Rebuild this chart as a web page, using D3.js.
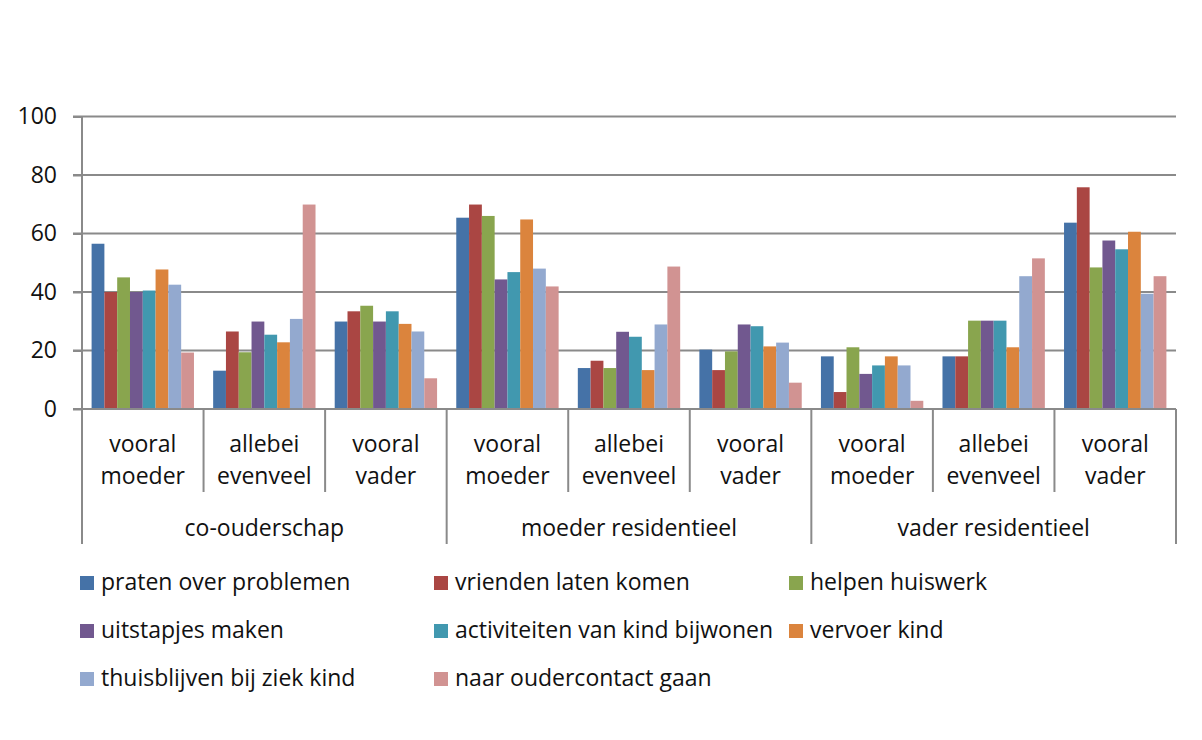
<!DOCTYPE html>
<html>
<head>
<meta charset="utf-8">
<script src="https://cdn.jsdelivr.net/npm/d3@7"></script>
<style>
  html, body { margin: 0; padding: 0; background: #fff; }
  svg { display: block; }
  text { font-family: "Open Sans", sans-serif; fill: #111; }
</style>
</head>
<body>
<svg id="chart" width="1202" height="740"></svg>
<script>
const groups = ["co-ouderschap", "moeder residentieel", "vader residentieel"];
const subcats = [["vooral", "moeder"], ["allebei", "evenveel"], ["vooral", "vader"]];
const seriesNames = [
  "praten over problemen", "vrienden laten komen", "helpen huiswerk",
  "uitstapjes maken", "activiteiten van kind bijwonen", "vervoer kind",
  "thuisblijven bij ziek kind", "naar oudercontact gaan"
];
const seriesColors = ["#4572A7", "#AA4643", "#89A54E", "#71588F", "#4198AF", "#DB843D", "#93A9CF", "#D19392"];
const praten       = [56.5, 13.1, 29.9, 65.4, 14.0, 20.3, 18.0, 18.0, 63.7];
const vrienden     = [40.0, 26.5, 33.4, 69.9, 16.5, 13.3,  5.8, 18.0, 75.8];
const helpen       = [45.0, 19.4, 35.3, 66.0, 14.0, 19.7, 21.1, 30.2, 48.4];
const uitstapjes   = [40.0, 29.9, 29.9, 44.3, 26.4, 28.9, 12.0, 30.2, 57.6];
const activiteiten = [40.5, 25.4, 33.4, 46.8, 24.7, 28.3, 14.9, 30.2, 54.6];
const vervoer      = [47.7, 22.8, 29.1, 64.8, 13.3, 21.4, 18.0, 21.1, 60.6];
const thuisblijven = [42.5, 30.8, 26.5, 48.0, 28.9, 22.7, 14.9, 45.4, 39.4];
const oudercontact = [19.3, 69.9, 10.5, 41.9, 48.7,  9.0,  2.8, 51.5, 45.4];
const seriesValues = [praten, vrienden, helpen, uitstapjes, activiteiten, vervoer, thuisblijven, oudercontact];
const yTicks = [0, 20, 40, 60, 80, 100];

(function () {
const svg = d3.select("#chart");
const pLeft = 82, pRight = 1176, pTop = 116.5, pBottom = 409;
const gridColor = "#8a8a8a";

const cats = [];
groups.forEach((g, gi) => subcats.forEach((s, si) => cats.push({key: gi + "-" + si, g: gi, s: si, label: s})));

const x0 = d3.scaleBand().domain(cats.map(c => c.key)).range([pLeft, pRight]).paddingInner(0).paddingOuter(0);
const x1 = d3.scaleBand().domain(seriesNames).range([0, x0.bandwidth()]).paddingInner(0).paddingOuter(0.75);
const y = d3.scaleLinear().domain([0, 100]).range([pBottom, pTop]);
const xg = d3.scaleBand().domain(groups).range([pLeft, pRight]);

// gridlines
svg.append("g").selectAll("line").data(yTicks.filter(t => t > 0)).join("line")
  .attr("x1", pLeft - 9).attr("x2", pRight)
  .attr("y1", d => y(d)).attr("y2", d => y(d))
  .attr("stroke", gridColor).attr("stroke-width", 2);

// y axis
const yAxis = d3.axisLeft(y).tickValues(yTicks).tickSize(9).tickPadding(16).tickFormat(d3.format("d"));
const ya = svg.append("g").attr("transform", `translate(${pLeft},0)`).call(yAxis);
ya.select(".domain").attr("stroke", gridColor).attr("stroke-width", 2).attr("d", `M0,${pTop}V${pBottom}`);
ya.selectAll(".tick line").attr("stroke", gridColor).attr("stroke-width", 2);
ya.selectAll(".tick text").attr("font-size", 23).attr("font-family", "Open Sans").attr("fill", "#111");

// bars
const barG = svg.append("g");
seriesNames.forEach((name, si) => {
  barG.append("g").selectAll("rect").data(seriesValues[si]).join("rect")
    .attr("x", (d, i) => x0(cats[i].key) + x1(name))
    .attr("width", x1.bandwidth())
    .attr("y", d => y(d))
    .attr("height", d => y(0) - y(d))
    .attr("fill", seriesColors[si]);
});

// x axis line
svg.append("line").attr("x1", pLeft - 9).attr("x2", pRight).attr("y1", pBottom).attr("y2", pBottom)
  .attr("stroke", gridColor).attr("stroke-width", 2);

// category dividers
const catEdges = cats.map(c => x0(c.key)).concat([pRight]);
svg.append("g").selectAll("line").data(catEdges).join("line")
  .attr("x1", d => d).attr("x2", d => d)
  .attr("y1", pBottom).attr("y2", (d, i) => (i % 3 === 0) ? 544 : 492)
  .attr("stroke", gridColor).attr("stroke-width", 2);

// category labels
const catLab = svg.append("g").selectAll("text").data(cats).join("text")
  .attr("text-anchor", "middle").attr("font-size", 23);
catLab.append("tspan").attr("x", c => x0(c.key) + x0.bandwidth() / 2).attr("y", 452).text(c => c.label[0]);
catLab.append("tspan").attr("x", c => x0(c.key) + x0.bandwidth() / 2).attr("y", 483.5).text(c => c.label[1]);

// group labels
svg.append("g").selectAll("text").data(groups).join("text")
  .attr("text-anchor", "middle").attr("font-size", 23)
  .attr("x", g => xg(g) + xg.bandwidth() / 2).attr("y", 536)
  .text(g => g);

// legend
const legCols = [80, 434, 789];
const legRows = [590, 638, 686];
const leg = svg.append("g").selectAll("g").data(seriesNames).join("g")
  .attr("transform", (d, i) => `translate(${legCols[i % 3]},${legRows[Math.floor(i / 3)]})`);
leg.append("rect").attr("x", 0).attr("y", -14).attr("width", 14).attr("height", 14)
  .attr("fill", (d, i) => seriesColors[i]);
leg.append("text").attr("x", 21).attr("y", 0).attr("font-size", 23).text(d => d);
})();
</script>
</body>
</html>
